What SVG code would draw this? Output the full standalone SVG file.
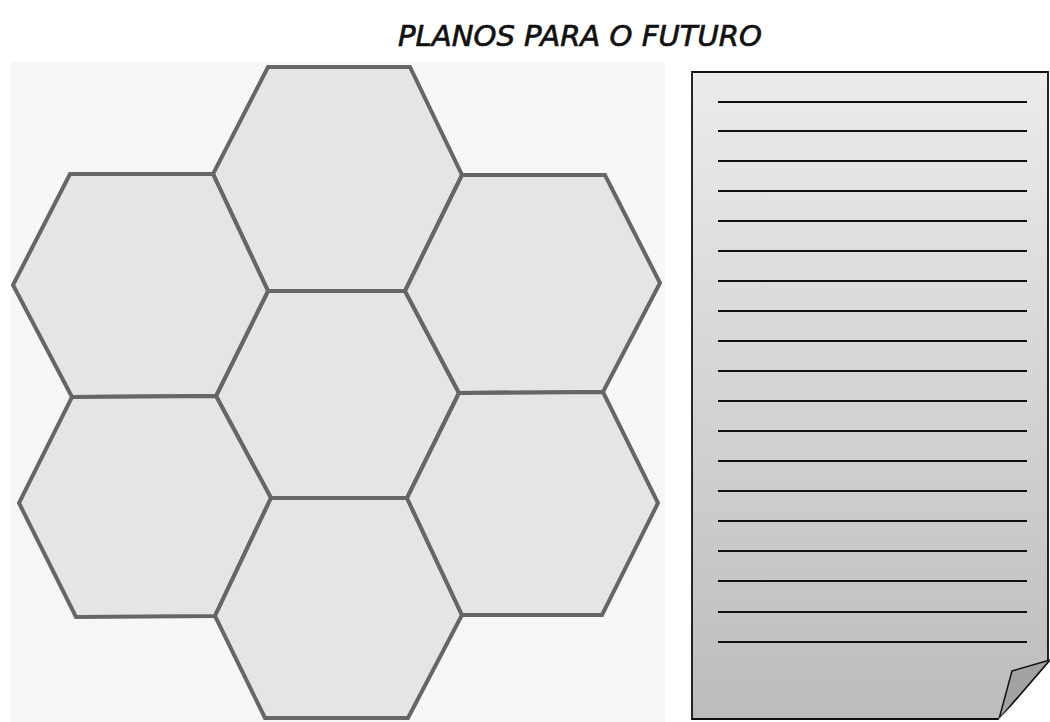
<svg xmlns="http://www.w3.org/2000/svg" width="1050" height="722" viewBox="0 0 1050 722">
<style>
.hex{fill:#e5e5e5;stroke:#666;stroke-width:4;stroke-linejoin:miter}
.rule{stroke:#111;stroke-width:2}
.title{font-family:"DejaVu Sans",sans-serif;font-style:oblique;font-size:29px;fill:#111;stroke:#111;stroke-width:0.7}
</style>
<defs>
<linearGradient id="paperG" x1="0" y1="0" x2="0" y2="1">
<stop offset="0" stop-color="#ececec"/>
<stop offset="1" stop-color="#bcbcbc"/>
</linearGradient>
<filter id="soft" x="-5%" y="-5%" width="110%" height="110%"><feGaussianBlur stdDeviation="0.7"/></filter>
</defs>
<rect width="1050" height="722" fill="#fff"/>
<text class="title" x="580" y="46" text-anchor="middle" textLength="364" lengthAdjust="spacingAndGlyphs">PLANOS PARA O FUTURO</text>
<rect x="11" y="62" width="654" height="660" fill="#f7f7f7"/>
<g filter="url(#soft)">
<g id="hex-top"><polygon class="hex" points="268,67 410,67 462,175 405,291 268,291 213,174"/></g>
<g id="hex-center"><polygon class="hex" points="268,291 405,291 459,393 407,498 271,498 216,396"/></g>
<g id="hex-left-upper"><polygon class="hex" points="70,174 213,174 268,291 216,396 72,397 13,285"/></g>
<g id="hex-left-lower"><polygon class="hex" points="72,397 216,396 271,498 215,616 76,617 19,503"/></g>
<g id="hex-bottom"><polygon class="hex" points="271,498 407,498 462,615 408,718 265,718 215,616"/></g>
<g id="hex-right-upper"><polygon class="hex" points="462,175 605,175 660,283 603,392 459,393 405,291"/></g>
<g id="hex-right-lower"><polygon class="hex" points="459,393 603,392 658,503 602,615 462,615 407,498"/></g>
</g>
<g id="paper">
<path d="M692,72 L1048,72 L1048,662 L999,719 L692,719 Z" fill="url(#paperG)" stroke="#111" stroke-width="1.8"/>
<path d="M999,719 L1012,671 L1050,660 Z" fill="#a2a2a2" stroke="#111" stroke-width="1.5" stroke-linejoin="round"/>
<path d="M999,720 L1050,668" stroke="#fff" stroke-width="2" opacity="0.8"/>
<g id="rules">
<line class="rule" x1="718" y1="102" x2="1027" y2="102"/>
<line class="rule" x1="718" y1="131" x2="1027" y2="131"/>
<line class="rule" x1="718" y1="161" x2="1027" y2="161"/>
<line class="rule" x1="718" y1="191" x2="1027" y2="191"/>
<line class="rule" x1="718" y1="221" x2="1027" y2="221"/>
<line class="rule" x1="718" y1="251" x2="1027" y2="251"/>
<line class="rule" x1="718" y1="281" x2="1027" y2="281"/>
<line class="rule" x1="718" y1="311" x2="1027" y2="311"/>
<line class="rule" x1="718" y1="341" x2="1027" y2="341"/>
<line class="rule" x1="718" y1="371" x2="1027" y2="371"/>
<line class="rule" x1="718" y1="401" x2="1027" y2="401"/>
<line class="rule" x1="718" y1="431" x2="1027" y2="431"/>
<line class="rule" x1="718" y1="461" x2="1027" y2="461"/>
<line class="rule" x1="718" y1="491" x2="1027" y2="491"/>
<line class="rule" x1="718" y1="521" x2="1027" y2="521"/>
<line class="rule" x1="718" y1="551" x2="1027" y2="551"/>
<line class="rule" x1="718" y1="581" x2="1027" y2="581"/>
<line class="rule" x1="718" y1="612" x2="1027" y2="612"/>
<line class="rule" x1="718" y1="642" x2="1027" y2="642"/>
</g>
</g>
</svg>
